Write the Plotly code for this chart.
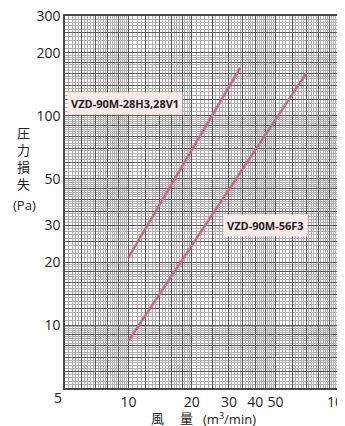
import numpy as np
import plotly.graph_objects as go

# ---- data ----
series_names = ["VZD-90M-28H3,28V1", "VZD-90M-56F3"]
flow_28 = [10, 34]          # m3/min
loss_28 = [21, 170]         # Pa
flow_56 = [10, 70]
loss_56 = [8.4, 160]

x_labels = [10, 20, 30, 40, 50, 100]
y_labels = [10, 20, 30, 50, 100, 200, 300]

# label anchor positions (data coords)
label_x = [9.6, 45]
label_y = [115, 30]

# page body has an 8px default margin -> compensate
OFF = 8
W, H = 345 - OFF, 426 - OFF
L, R, T, B = 65 - OFF, 6, 16 - OFF, 38
PW, PH = W - L - R, H - T - B


def seg(a, b, step):
    return list(np.round(np.arange(a, b + 1e-9, step), 4))


# grid levels: dark and light lines
x_major = sorted(set(seg(5, 10, 1) + seg(10, 20, 2) + seg(20, 50, 5) + seg(50, 100, 10)))
x_minor = sorted(set(seg(5, 10, 0.2) + seg(10, 20, 0.5) + seg(20, 50, 1) + seg(50, 100, 2)) - set(x_major))
y_major = sorted(set(seg(5, 10, 1) + seg(10, 20, 2) + seg(20, 50, 5) + seg(50, 100, 10)
                     + seg(100, 200, 20) + seg(200, 300, 50)))
y_minor = sorted(set(seg(5, 10, 0.2) + seg(10, 20, 0.5) + seg(20, 50, 1) + seg(50, 100, 2)
                     + seg(100, 200, 5) + seg(200, 300, 10)) - set(y_major))


def tt(vals, labels):
    return [str(int(v)) if any(abs(v - l) < 1e-6 for l in labels) else "" for v in vals]


line_color = "#d8627b"
txt = "#222222"
font_family = "Open Sans, Noto Sans CJK JP, sans-serif"

fig = go.Figure()
fig.add_trace(go.Scatter(x=flow_28, y=loss_28, mode="lines", name=series_names[0],
                         line=dict(color=line_color, width=2.5)))
fig.add_trace(go.Scatter(x=flow_56, y=loss_56, mode="lines", name=series_names[1],
                         line=dict(color=line_color, width=2.5)))

axis_common = dict(showline=True, mirror=True, linecolor="#4a4a4a", linewidth=1.5,
                   gridcolor="#5a5a5a", gridwidth=1, zeroline=False, ticks="",
                   automargin=False, ticklabeloverflow="allow",
                   tickfont=dict(size=14, color=txt, family=font_family))

fig.update_xaxes(type="log", range=[np.log10(5), np.log10(100)],
                 tickmode="array", tickvals=x_major, ticktext=tt(x_major, x_labels),
                 minor=dict(tickmode="array", tickvals=x_minor, showgrid=True,
                            gridcolor="#b0b0b0", gridwidth=1, ticks=""),
                 **axis_common)
fig.update_yaxes(type="log", range=[np.log10(5), np.log10(300)],
                 tickmode="array", tickvals=y_major, ticktext=tt(y_major, y_labels),
                 minor=dict(tickmode="array", tickvals=y_minor, showgrid=True,
                            gridcolor="#b0b0b0", gridwidth=1, ticks=""),
                 **axis_common)


# convert page pixel positions to paper coords
def px(x):
    return (x - OFF - L) / PW


def py(y):
    return (H - B - (y - OFF)) / PH


ann = []
# corner "5"
ann.append(dict(x=px(58), y=py(397), xref="paper", yref="paper", text="5", showarrow=False,
                font=dict(size=14, color=txt, family=font_family), xanchor="center", yanchor="middle"))
# y-axis title
ann.append(dict(x=px(23), y=py(158), xref="paper", yref="paper", text="圧<br>力<br>損<br>失",
                showarrow=False, font=dict(size=13, color=txt, family=font_family),
                xanchor="center", yanchor="middle"))
ann.append(dict(x=px(24), y=py(205), xref="paper", yref="paper", text="(Pa)",
                showarrow=False, font=dict(size=13, color=txt, family=font_family),
                xanchor="center", yanchor="middle"))
# x-axis title
ann.append(dict(x=px(157), y=py(418), xref="paper", yref="paper", text="風", showarrow=False,
                font=dict(size=13, color=txt, family=font_family), xanchor="center", yanchor="middle"))
ann.append(dict(x=px(186), y=py(418), xref="paper", yref="paper", text="量", showarrow=False,
                font=dict(size=13, color=txt, family=font_family), xanchor="center", yanchor="middle"))
ann.append(dict(x=px(229), y=py(418), xref="paper", yref="paper", text="(m<sup>3</sup>/min)",
                showarrow=False, font=dict(size=13, color=txt, family=font_family),
                xanchor="center", yanchor="middle"))
# series labels
for name, lx, ly in zip(series_names, label_x, label_y):
    ann.append(dict(x=np.log10(lx), y=np.log10(ly), xref="x", yref="y", text="<b>" + name + "</b>",
                    showarrow=False, bgcolor="#fbeaea", borderpad=3,
                    font=dict(size=11, color=txt, family=font_family),
                    xanchor="center", yanchor="middle"))

fig.update_layout(width=W, height=H, margin=dict(l=L, r=R, t=T, b=B, pad=0),
                  paper_bgcolor="white", plot_bgcolor="white", showlegend=False,
                  annotations=ann, font=dict(family=font_family, color=txt))

fig.write_html("out.html")
